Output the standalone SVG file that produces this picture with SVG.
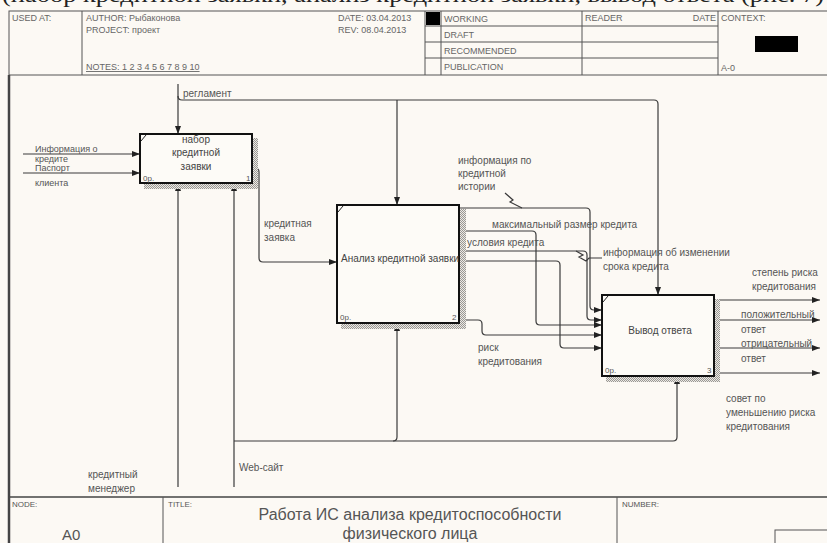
<svg xmlns="http://www.w3.org/2000/svg" width="827" height="543" viewBox="0 0 827 543">
<defs>
<style>
.t{font-family:"Liberation Sans",Arial,sans-serif;fill:#555}
.lb{font-size:10px}
.lb9{font-size:9px}
.hd{font-size:9px;fill:#666}
.bx{font-size:10px;fill:#444}
.sm{font-size:8px;fill:#555}
.ln{fill:none;stroke:#3a3a3a;stroke-width:1.2}
.fr{fill:none;stroke:#555;stroke-width:1}
.box{fill:#fdfbf7;stroke:#111;stroke-width:2}
.sh{fill:url(#dots)}
</style>
<pattern id="dots" width="2" height="2" patternUnits="userSpaceOnUse">
<rect width="2" height="2" fill="#ece9e4"/>
<rect width="1" height="1" fill="#9a9894"/>
<rect x="1" y="1" width="1" height="1" fill="#9a9894"/>
</pattern>
<marker id="ah" viewBox="0 0 8 6" refX="8" refY="3" markerWidth="8" markerHeight="6" orient="auto" markerUnits="userSpaceOnUse">
<path d="M0,0 L8,3 L0,6 z" fill="#222"/>
</marker>
</defs>
<rect width="827" height="543" fill="#fcf9f4"/>
<text x="2" y="2" font-family="Liberation Serif,Times New Roman,serif" font-size="21" fill="#222" textLength="822" lengthAdjust="spacingAndGlyphs">(набор кредитной заявки, анализ кредитной заявки, вывод ответа (рис. 7)</text>

<g id="header">
<rect x="9" y="11" width="820" height="64" class="fr"/>
<line x1="82" y1="11" x2="82" y2="75" class="fr"/>
<line x1="425" y1="11" x2="425" y2="75" class="fr"/>
<line x1="441" y1="11" x2="441" y2="75" class="fr"/>
<line x1="582" y1="11" x2="582" y2="75" class="fr"/>
<line x1="718" y1="11" x2="718" y2="75" class="fr"/>
<line x1="425" y1="26" x2="718" y2="26" class="fr"/>
<line x1="425" y1="42" x2="718" y2="42" class="fr"/>
<line x1="425" y1="58" x2="718" y2="58" class="fr"/>
<rect x="426" y="12" width="14" height="13" fill="#000"/>
<rect x="755" y="36" width="43" height="16" fill="#000"/>
<text class="t hd" x="12" y="21">USED AT:</text>
<text class="t hd" x="86" y="21">AUTHOR:  Рыбаконова</text>
<text class="t hd" x="86" y="33">PROJECT:  проект</text>
<text class="t hd" x="86" y="70" text-decoration="underline">NOTES:  1  2  3  4  5  6  7  8  9  10</text>
<text class="t hd" x="338" y="21">DATE: 03.04.2013</text>
<text class="t hd" x="338" y="33">REV:  08.04.2013</text>
<text class="t hd" x="444" y="22">WORKING</text>
<text class="t hd" x="444" y="38">DRAFT</text>
<text class="t hd" x="444" y="54">RECOMMENDED</text>
<text class="t hd" x="444" y="70">PUBLICATION</text>
<text class="t hd" x="585" y="21">READER</text>
<text class="t hd" x="716" y="21" text-anchor="end">DATE</text>
<text class="t hd" x="721" y="21">CONTEXT:</text>
<text class="t hd" x="721" y="71">A-0</text>
</g>

<g id="frame">
<line x1="9" y1="75" x2="9" y2="543" stroke="#444" stroke-width="2.5"/>
<line x1="9" y1="497" x2="827" y2="497" stroke="#444" stroke-width="1.5"/>
<line x1="163" y1="497" x2="163" y2="543" class="fr"/>
<line x1="617" y1="497" x2="617" y2="543" class="fr"/>
<rect x="775" y="530" width="54" height="16" class="fr"/>
<text class="t sm" x="12" y="507">NODE:</text>
<text class="t" x="62" y="540" font-size="15" fill="#333">A0</text>
<text class="t sm" x="168" y="507">TITLE:</text>
<text class="t" x="410" y="520" font-size="16" fill="#333" text-anchor="middle">Работа ИС  анализа кредитоспособности</text>
<text class="t" x="410" y="539" font-size="16" fill="#333" text-anchor="middle">физического лица</text>
<text class="t sm" x="622" y="507">NUMBER:</text>
</g>

<g id="connectors">
<path class="ln" d="M23,154 L140,154" marker-end="url(#ah)"/>
<path class="ln" d="M23,173 L140,173" marker-end="url(#ah)"/>
<path class="ln" d="M178,84 L178,134" marker-end="url(#ah)"/>
<path class="ln" d="M178,96 Q178,100 182,100 L654,100 Q658,100 658,104 L658,295" marker-end="url(#ah)"/>
<path class="ln" d="M397,100 L397,205" marker-end="url(#ah)"/>
<path class="ln" d="M252,168 L255,168 Q259,168 259,172 L259,258 Q259,262 263,262 L337,262" marker-end="url(#ah)"/>
<path class="ln" d="M178,487 L178,183" marker-end="url(#ah)"/>
<path class="ln" d="M234,487 L234,183" marker-end="url(#ah)"/>
<path class="ln" d="M234,441 L673,441 Q677,441 677,437 L677,376" marker-end="url(#ah)"/>
<path class="ln" d="M393,441 Q397,441 397,437 L397,323" marker-end="url(#ah)"/>
<path class="ln" d="M459,208 L586,208 Q590,208 590,212 L590,306 Q590,310 594,310 L602,310" marker-end="url(#ah)"/>
<path class="ln" d="M459,231 L532,231 Q536,231 536,235 L536,321 Q536,325 540,325 L602,325" marker-end="url(#ah)"/>
<path class="ln" d="M459,251 L583,251 Q587,251 587,255 L587,316 Q587,320 591,320 L602,320" marker-end="url(#ah)"/>
<path class="ln" d="M459,261 L556,261 Q560,261 560,265 L560,344 Q560,348 564,348 L602,348" marker-end="url(#ah)"/>
<path class="ln" d="M459,320 L478,320 Q482,320 482,324 L482,331 Q482,335 486,335 L602,335" marker-end="url(#ah)"/>
<path class="ln" d="M714,300 L820,300" marker-end="url(#ah)"/>
<path class="ln" d="M714,320 L820,320" marker-end="url(#ah)"/>
<path class="ln" d="M714,348 L820,348" marker-end="url(#ah)"/>
<path class="ln" d="M714,373 L820,373" marker-end="url(#ah)"/>
<path class="ln" stroke-width="1" d="M505,193 L513,200 L510,202 L522,208"/>
<path class="ln" stroke-width="1" d="M576,251 L583,255 L579,257 L586,261 L589,258 L602,258"/>
</g>

<g id="labels">
<text class="t lb" x="183" y="97">регламент</text>
<text class="t lb9" x="35" y="152">Информация о</text>
<text class="t lb9" x="35" y="162">кредите</text>
<text class="t lb9" x="35" y="171">Паспорт</text>
<text class="t lb9" x="35" y="186">клиента</text>
<text class="t lb" x="264" y="227">кредитная</text>
<text class="t lb" x="264" y="241">заявка</text>
<text class="t lb" x="458" y="164">информация по</text>
<text class="t lb" x="458" y="177">кредитной</text>
<text class="t lb" x="458" y="190">истории</text>
<text class="t lb" x="492" y="228">максимальный размер кредита</text>
<text class="t lb" x="467" y="246">условия кредита</text>
<text class="t lb" x="603" y="256">информация об изменении</text>
<text class="t lb" x="603" y="270">срока кредита</text>
<text class="t lb" x="478" y="351">риск</text>
<text class="t lb" x="478" y="365">кредитования</text>
<text class="t lb" x="752" y="276">степень риска</text>
<text class="t lb" x="752" y="290">кредитования</text>
<text class="t lb" x="741" y="318">положительный</text>
<text class="t lb" x="741" y="333">ответ</text>
<text class="t lb" x="741" y="347">отрицательный</text>
<text class="t lb" x="741" y="362">ответ</text>
<text class="t lb" x="726" y="402">совет по</text>
<text class="t lb" x="726" y="416">уменьшению риска</text>
<text class="t lb" x="726" y="430">кредитования</text>
<text class="t lb" x="239" y="471">Web-сайт</text>
<text class="t lb" x="88" y="478">кредитный</text>
<text class="t lb" x="88" y="492">менеджер</text>
</g>

<g id="node1">
<rect class="sh" x="252" y="138" width="6" height="51"/>
<rect class="sh" x="144" y="183" width="114" height="6"/>
<rect class="box" x="140" y="134" width="112" height="49"/>
<path d="M141,141 L146,135" stroke="#222" fill="none"/>
<text class="t bx" x="196" y="143" text-anchor="middle">набор</text>
<text class="t bx" x="196" y="156" text-anchor="middle">кредитной</text>
<text class="t bx" x="196" y="170" text-anchor="middle">заявки</text>
<text class="t sm" x="143" y="181">0р.</text>
<text class="t sm" x="246" y="181">1</text>
</g>

<g id="node2">
<rect class="sh" x="459" y="209" width="7" height="120"/>
<rect class="sh" x="341" y="323" width="125" height="6"/>
<rect class="box" x="337" y="205" width="122" height="118"/>
<path d="M338,212 L343,206" stroke="#222" fill="none"/>
<text class="t bx" x="341" y="262">Анализ кредитной заявки</text>
<text class="t sm" x="340" y="320">0р.</text>
<text class="t sm" x="452" y="320">2</text>
</g>

<g id="node3">
<rect class="sh" x="714" y="299" width="6" height="83"/>
<rect class="sh" x="606" y="376" width="114" height="6"/>
<rect class="box" x="602" y="295" width="112" height="81"/>
<path d="M603,302 L608,296" stroke="#222" fill="none"/>
<text class="t bx" x="660" y="334" text-anchor="middle">Вывод ответа</text>
<text class="t sm" x="605" y="373">0р.</text>
<text class="t sm" x="707" y="373">3</text>
</g>
</svg>
